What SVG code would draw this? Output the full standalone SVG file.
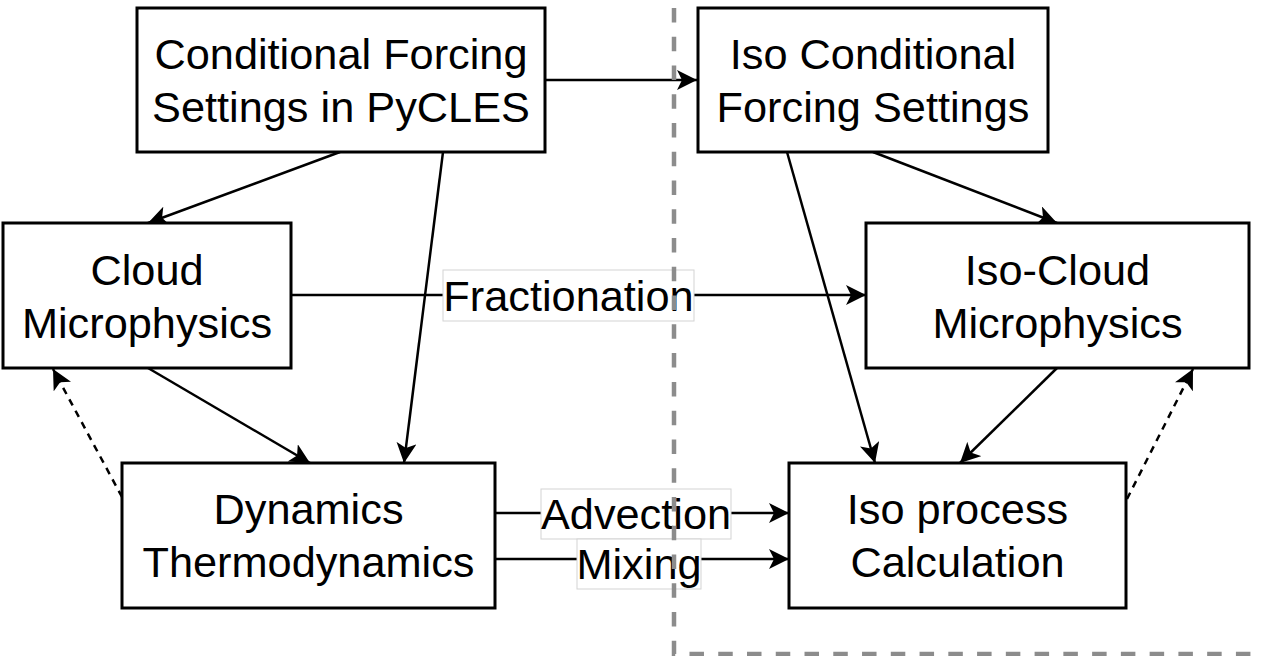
<svg xmlns="http://www.w3.org/2000/svg" width="1264" height="656" viewBox="0 0 1264 656">
  <style>
    .box { fill: #ffffff; stroke: #000000; stroke-width: 3; }
    .txt { font-family: "Liberation Sans", Arial, Helvetica, sans-serif; font-size: 43.3px; fill: #000000; text-anchor: middle; }
    .edge { fill: none; stroke: #000000; stroke-width: 2.5; marker-end: url(#arrow); }
    .dashedge { fill: none; stroke: #000000; stroke-width: 2.5; stroke-dasharray: 7 6; marker-end: url(#arrow); }
    .lblbg { fill: #ffffff; stroke: #d3d3d3; stroke-width: 1; }
    .divider { fill: none; stroke: #8c8c8c; stroke-width: 4.5; stroke-dasharray: 14.5 14.26; }
  </style>
  <defs>
    <marker id="arrow" viewBox="0 0 20 20" refX="20" refY="10" markerWidth="20" markerHeight="20" markerUnits="userSpaceOnUse" orient="auto">
      <path d="M0,0 L20,10 L0,20 L5,10 Z" fill="#000000"/>
    </marker>
  </defs>
  <rect x="0" y="0" width="1264" height="656" fill="#ffffff"/>

  <g id="connectors">
    <line class="edge" x1="545" y1="80" x2="697" y2="80"/>
    <line class="edge" x1="340" y1="152" x2="148" y2="223"/>
    <line class="edge" x1="443" y1="152" x2="404" y2="463"/>
    <line class="edge" x1="148" y1="368" x2="310" y2="463"/>
    <line class="dashedge" x1="122" y1="497" x2="53" y2="369"/>
    <line class="edge" x1="873" y1="152" x2="1057" y2="223"/>
    <line class="edge" x1="787" y1="152" x2="875" y2="463"/>
    <line class="edge" x1="1057" y1="368" x2="960" y2="463"/>
    <line class="dashedge" x1="1127" y1="499" x2="1193" y2="369"/>
    <line class="edge" x1="291" y1="295" x2="866" y2="295"/>
    <line class="edge" x1="495" y1="513" x2="789" y2="513"/>
    <line class="edge" x1="495" y1="559" x2="789" y2="559"/>
    <g id="edge-labels">
      <rect class="lblbg" x="443" y="270" width="251" height="51"/>
      <text class="txt" x="568.5" y="311">Fractionation</text>
      <rect class="lblbg" x="541" y="489" width="190" height="50"/>
      <text class="txt" x="636" y="529">Advection</text>
      <rect class="lblbg" x="577" y="539" width="124" height="50"/>
      <text class="txt" x="639" y="579">Mixing</text>
    </g>
  </g>

  <g id="node-forcing">
    <rect class="box" x="137" y="8" width="408" height="144"/>
    <text class="txt" x="341" y="69">Conditional Forcing</text>
    <text class="txt" x="341" y="122">Settings in PyCLES</text>
  </g>
  <g id="node-iso-forcing">
    <rect class="box" x="698" y="8" width="350" height="144"/>
    <text class="txt" x="873" y="69">Iso Conditional</text>
    <text class="txt" x="873" y="122">Forcing Settings</text>
  </g>
  <g id="node-cloud">
    <rect class="box" x="3" y="223" width="288" height="145"/>
    <text class="txt" x="147" y="285">Cloud</text>
    <text class="txt" x="147" y="338">Microphysics</text>
  </g>
  <g id="node-iso-cloud">
    <rect class="box" x="866" y="223" width="383" height="145"/>
    <text class="txt" x="1057.5" y="285">Iso-Cloud</text>
    <text class="txt" x="1057.5" y="338">Microphysics</text>
  </g>
  <g id="node-dynamics">
    <rect class="box" x="122" y="463" width="373" height="145"/>
    <text class="txt" x="308.5" y="524">Dynamics</text>
    <text class="txt" x="308.5" y="577">Thermodynamics</text>
  </g>
  <g id="node-iso-process">
    <rect class="box" x="789" y="463" width="337" height="145"/>
    <text class="txt" x="957.5" y="524">Iso process</text>
    <text class="txt" x="957.5" y="577">Calculation</text>
  </g>

  <polyline id="divider" class="divider" points="674,8 674,654 1264,654"/>
</svg>
